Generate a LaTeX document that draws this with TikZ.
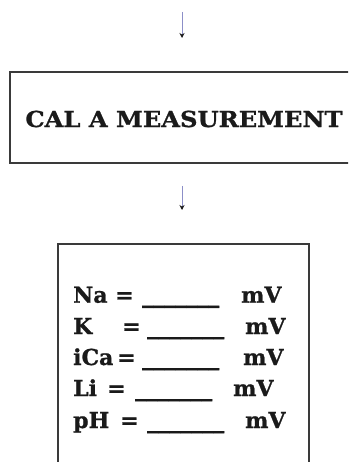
\documentclass[tikz,border=0pt]{standalone}
\usepackage{fontspec}
\setmainfont{DejaVu Serif}
\newfontfamily\calfont{DejaVu Serif}[FakeStretch=1.1, FakeBold=1]
\newfontfamily\calrowfont{DejaVu Serif}[FakeBold=1]
\usetikzlibrary{arrows.meta,positioning}
\definecolor{calInk}{HTML}{1A1A1A}
\definecolor{calFrame}{HTML}{3A3A3A}
\definecolor{calLine}{HTML}{8C8FC8}
\tikzset{
  cal diagram/.style={font=\calfont\bfseries\fontsize{22}{26}\selectfont, text=calInk,
    x=1pt, y=-1pt},
  cal box/.style={draw=calFrame, line width=1.5pt, inner sep=0pt},
  cal arrow/.style={-{Stealth[length=5pt,width=5pt,color=calInk]},
    draw=calLine, line width=0.9pt},
  cal text/.style={anchor=base west, inner sep=0pt,
    font=\calrowfont\bfseries\fontsize{22}{26}\selectfont}
}
\begin{document}
\begin{tikzpicture}[cal diagram]
\clip (0,0) rectangle (348,462);
% first step
\coordinate (in top) at (182,12);
\coordinate (in end) at (182,38);
\draw[cal arrow] (in top) -- (in end);
\node[cal box, minimum width=352pt, minimum height=91pt] (meas) at (186,117.5) {};
\node[inner sep=0pt] (meas text) at (184,119) {CAL A MEASUREMENT};
% second step
\coordinate (out top) at (182,186);
\coordinate (out end) at (182,210);
\draw[cal arrow] (out top) -- (out end);
\node[cal box, minimum width=251pt, minimum height=250pt] (read) at (183.5,369) {};
\foreach \i/\lbl/\y/\eqx/\lnx/\unx in {1/Na/302.7/115/142/241, 2/K/334/122/147/245,
    3/iCa/365/117/142/243, 4/Li/396/107/135/233, 5/pH/428/120/147/245}{
  \node[cal text] (lbl \i) at (73,\y) {\lbl};
  \node[cal text] (eq \i) at (\eqx,\y) {=};
  \node[cal text] (blank \i) at (\lnx,\y) {\_\_\_\_\_\_\_};
  \node[cal text] (unit \i) at (\unx,\y) {mV};
}
\end{tikzpicture}
\end{document}
